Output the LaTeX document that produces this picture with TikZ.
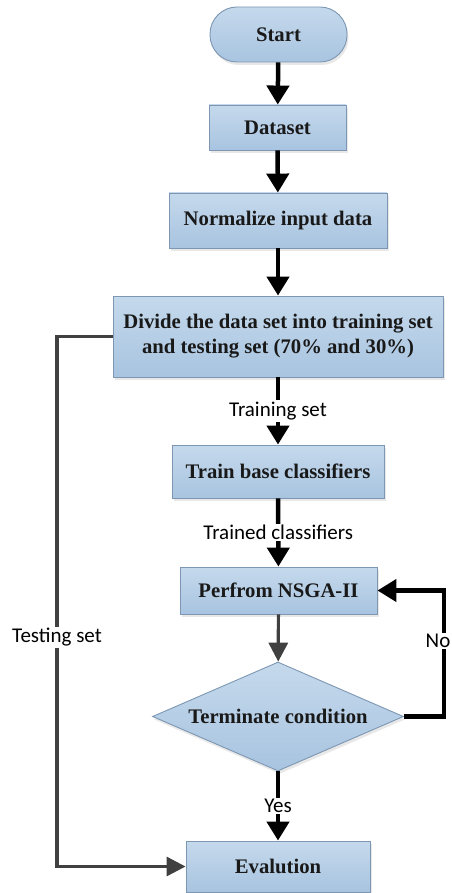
\documentclass[tikz,border=0pt]{standalone}
\usepackage{fontspec}
\setmainfont{Liberation Serif}
\newfontfamily\lblfont{Carlito}
\usetikzlibrary{arrows.meta,shapes.geometric,shadows}
\definecolor{boxtop}{HTML}{C5D9EC}
\definecolor{boxbot}{HTML}{A8C4E0}
\definecolor{boxline}{HTML}{7D97B3}
\definecolor{grayline}{HTML}{404040}
\begin{document}
\begin{tikzpicture}[x=1pt,y=-1pt,
  box/.style={draw=boxline, line width=0.9pt, top color=boxtop, bottom color=boxbot,
    font=\fontsize{20.7}{25}\selectfont\bfseries, text=black!90, align=center, inner sep=0pt,
    drop shadow={opacity=0.18, shadow xshift=1.5pt, shadow yshift=-3pt}},
  mainarrow/.style={draw=black, line width=4.5pt, -{Triangle[width=22pt,length=19pt]}},
  grayarrow/.style={draw=grayline, line width=3.2pt, -{Triangle[width=19pt,length=19pt]}},
  lbl/.style={font=\lblfont\fontsize{21}{25}\selectfont, fill=white, inner sep=1.5pt, text=black}
]
\useasboundingbox[fill=white] (0,0) rectangle (451,893);

\node[box, rounded corners=27pt, minimum width=137pt, minimum height=55pt] (start) at (278.5,34.5) {Start};
\node[box, minimum width=137pt, minimum height=45pt] (dataset) at (277.5,127.5) {Dataset};
\node[box, minimum width=218pt, minimum height=55pt] (norm) at (278,220.5) {Normalize input data};
\node[box, minimum width=330pt, minimum height=81pt] (divide) at (278,336.5) {Divide the data set into training set\\and testing set (70\% and 30\%)};
\node[box, minimum width=212pt, minimum height=53pt] (train) at (278,471.5) {Train base classifiers};
\node[box, minimum width=197pt, minimum height=47pt] (nsga) at (278.5,590.5) {Perfrom NSGA-II};
\node[box, diamond, shape aspect=2.3, minimum width=251pt, minimum height=109pt] (term) at (278,716.5) {Terminate condition};
\node[box, minimum width=184pt, minimum height=51pt] (eval) at (278,866.5) {Evalution};

\coordinate (tcorner) at (57,336.5);
\coordinate (ncorner) at (444,716.5);

\draw[mainarrow] (start) -- (dataset);
\draw[mainarrow] (dataset) -- (norm);
\draw[mainarrow] (norm) -- (divide);
\draw[mainarrow] (divide) -- node[lbl] {Training set} (train);
\draw[mainarrow] (train) -- node[lbl] {Trained classifiers} (nsga);
\draw[grayarrow] (nsga) -- (term);
\draw[mainarrow] (term) -- node[lbl] {Yes} (eval);
\draw[mainarrow] (term.east) -- (ncorner) |- node[lbl, pos=0.3, xshift=-6pt] {No} (nsga.east);
\draw[grayarrow] (divide.west) -- (tcorner) |- node[lbl, pos=0.284] {Testing set} (eval.west);
\end{tikzpicture}
\end{document}
